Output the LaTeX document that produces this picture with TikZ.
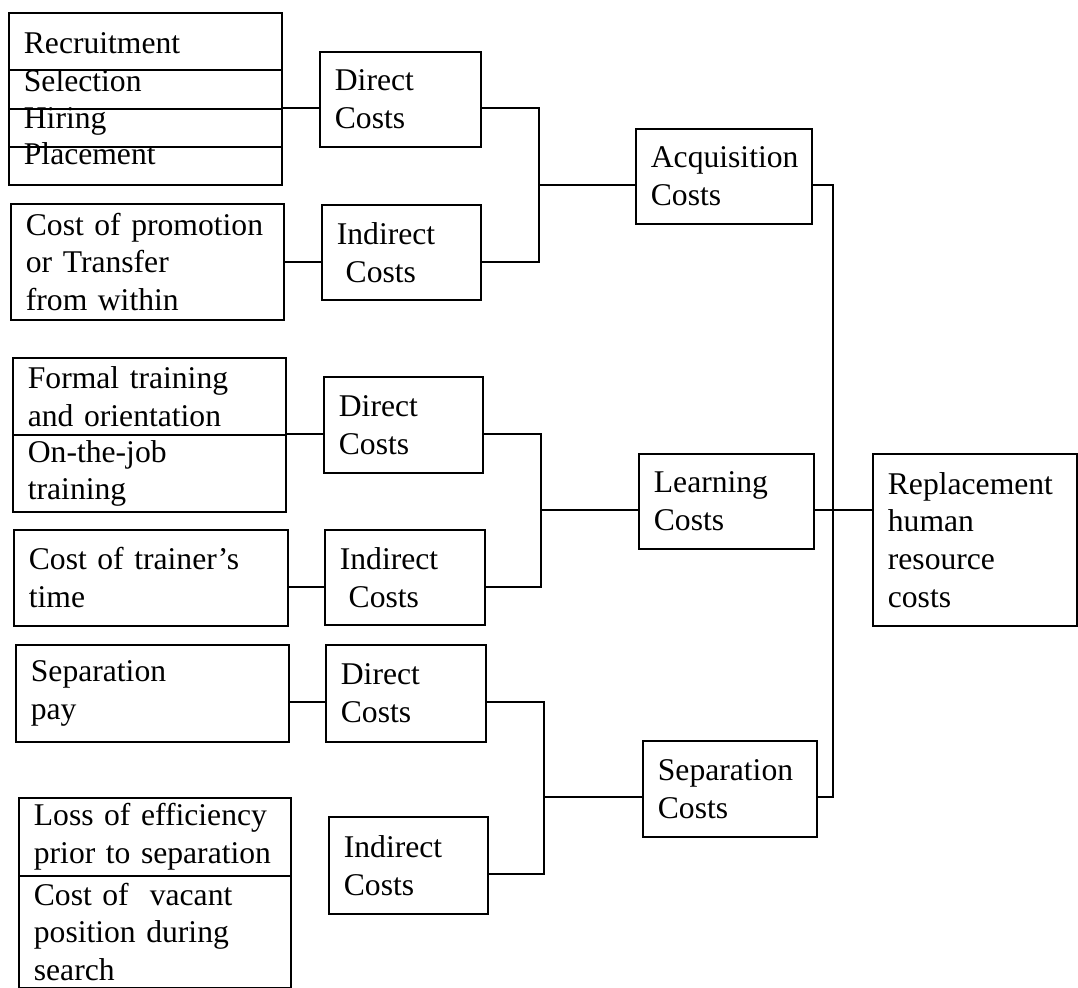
\documentclass[tikz,border=0pt]{standalone}
\usepackage{fontspec}
\setmainfont{Liberation Serif}
\newdimen\pxu
\pxu=0.02cm

\begin{document}
\begin{tikzpicture}[x=0.02cm, y=-0.02cm, line width=1pt,
  every node/.style={font=\fontsize{18}{21.5}\selectfont},
  box/.style 2 args={draw, anchor=north west, inner xsep=15\pxu, inner ysep=0pt, align=left, text width=#1\pxu, minimum height=#2\pxu},
  rowbox/.style 2 args={draw, anchor=north west, inner xsep=15\pxu, inner ysep=0pt, align=left, text width=243\pxu, text height=#1\pxu, text depth=#2\pxu}]
	\useasboundingbox (0,0) rectangle (1078,987);
	\node[rowbox={41}{16}] (rec1) at (8,12) {Recruitment};
	\node[rowbox={22}{17}] (rec2) at (8,69) {Selection};
	\node[rowbox={20}{18}] (rec3) at (8,108) {Hiring};
	\node[rowbox={18}{20}] (rec4) at (8,146) {Placement};
	\node[box={243}{116}] (promo) at (10,203) {Cost of promotion\\or Transfer\\from within};
	\node[box={131}{95}] (acqdir) at (319,51) {Direct\\Costs};
	\node[box={129}{95}] (acqind) at (321,204) {Indirect\\\hspace*{5pt}Costs};
	\node[box={146}{95}] (acq) at (635,128) {Acquisition\\Costs};
	\node[box={243}{77}] (form1) at (12,357) {Formal training\\and orientation};
	\node[box={243}{77}] (form2) at (12,434) {On-the-job\\training};
	\node[box={129}{96}] (lrndir) at (323,376) {Direct\\Costs};
	\node[box={244}{96}] (trainer) at (13,529) {Cost of trainer’s\\time};
	\node[box={130}{95}] (lrnind) at (324,529) {Indirect\\\hspace*{5pt}Costs};
	\node[box={145}{95}] (lrn) at (638,453) {Learning\\Costs};
	\node[box={174}{172}] (repl) at (872,453) {Replacement\\human\\resource\\costs};
	\node[box={243}{97}] (sepay) at (15,644) {Separation\\pay};
	\node[box={130}{97}] (sepdir) at (325,644) {Direct\\Costs};
	\node[box={242}{78}] (loss1) at (18,797) {Loss of efficiency\\prior to separation};
	\node[box={242}{112}] (loss2) at (18,875) {Cost of\ \ vacant\\position during\\search};
	\node[box={129}{97}] (sepind) at (328,816) {Indirect\\Costs};
	\node[box={144}{96}] (sep) at (642,740) {Separation\\Costs};
	\coordinate (acqtop) at (539,108);
	\coordinate (acqmid) at (539,185);
	\coordinate (acqbot) at (539,262);
	\coordinate (lrntop) at (541,434);
	\coordinate (lrnmid) at (541,510);
	\coordinate (lrnbot) at (541,587);
	\coordinate (septop) at (544,702);
	\coordinate (sepmid) at (544,797);
	\coordinate (sepbot) at (544,874);
	\coordinate (repltop) at (833,185);
	\coordinate (replbot) at (833,797);
	\draw (rec2.east |- acqtop) -- (acqdir.west |- acqtop);
	\draw (promo.east |- acqbot) -- (acqind.west |- acqbot);
	\draw (acqdir.east |- acqtop) -- (acqtop) -- (acqbot) -- (acqind.east |- acqbot);
	\draw (acqmid) -- (acq.west |- acqmid);
	\draw (form1.east |- lrntop) -- (lrndir.west |- lrntop);
	\draw (trainer.east |- lrnbot) -- (lrnind.west |- lrnbot);
	\draw (lrndir.east |- lrntop) -- (lrntop) -- (lrnbot) -- (lrnind.east |- lrnbot);
	\draw (lrnmid) -- (lrn.west |- lrnmid);
	\draw (sepay.east |- septop) -- (sepdir.west |- septop);
	\draw (sepdir.east |- septop) -- (septop) -- (sepbot) -- (sepind.east |- sepbot);
	\draw (sepmid) -- (sep.west |- sepmid);
	\draw (acq.east |- repltop) -- (repltop) -- (replbot) -- (sep.east |- replbot);
	\draw (lrn.east |- lrnmid) -- (repl.west |- lrnmid);
\end{tikzpicture}
\end{document}
